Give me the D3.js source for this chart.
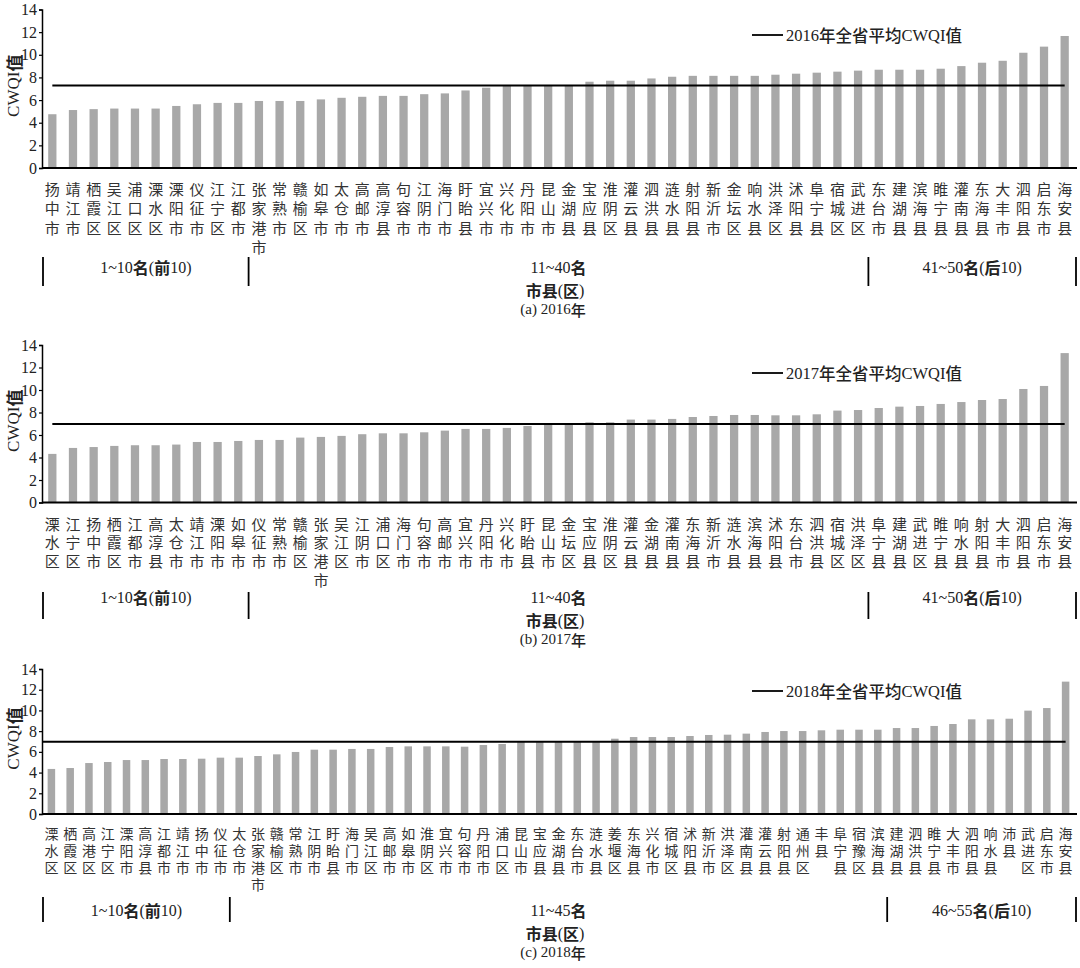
<!DOCTYPE html>
<html><head><meta charset="utf-8">
<script src="https://cdn.jsdelivr.net/npm/d3@7"></script>
<style>
body{margin:0;background:#fff;}
svg{display:block;}
</style></head>
<body><svg id="chart" width="1080" height="968"></svg>
<script>
const yTicks = [0,2,4,6,8,10,12,14];

const cats2016 = ["扬中市","靖江市","栖霞区","吴江区","浦口区","溧水区","溧阳市","仪征市","江宁区","江都市","张家港市","常熟市","赣榆区","如皋市","太仓市","高邮市","高淳县","句容市","江阴市","海门市","盱眙县","宜兴市","兴化市","丹阳市","昆山市","金湖县","宝应县","淮阴区","灌云县","泗洪县","涟水县","射阳县","新沂市","金坛区","响水县","洪泽区","沭阳县","阜宁县","宿城区","武进区","东台市","建湖县","滨海县","睢宁县","灌南县","东海县","大丰市","泗阳县","启东市","海安县"];
const vals2016 = [4.75,5.12,5.2,5.25,5.25,5.25,5.48,5.63,5.75,5.75,5.92,5.92,5.92,6.06,6.2,6.29,6.37,6.37,6.52,6.59,6.85,7.09,7.26,7.29,7.29,7.29,7.62,7.71,7.71,7.91,8.06,8.14,8.14,8.14,8.14,8.24,8.33,8.42,8.51,8.6,8.68,8.68,8.68,8.77,9.0,9.3,9.47,10.18,10.72,11.66];
const avg2016 = 7.29;
const groups2016 = ["1~10名(前10)","11~40名","41~50名(后10)"];
const bounds2016 = [0,10,40,50];

const cats2017 = ["溧水区","江宁区","扬中市","栖霞区","江都市","高淳县","太仓市","靖江市","溧阳市","如皋市","仪征市","常熟市","赣榆区","张家港市","吴江区","江阴市","浦口区","海门市","句容市","高邮市","宜兴市","丹阳市","兴化市","盱眙县","昆山市","金坛区","宝应县","淮阴区","灌云县","金湖县","灌南县","东海县","新沂市","涟水县","滨海县","沭阳县","东台市","泗洪县","宿城区","洪泽区","阜宁县","建湖县","武进区","睢宁县","响水县","射阳县","大丰市","泗阳县","启东市","海安县"];
const vals2017 = [4.32,4.85,4.93,5.03,5.09,5.09,5.15,5.38,5.38,5.47,5.56,5.56,5.77,5.83,5.92,6.07,6.15,6.15,6.24,6.39,6.54,6.54,6.63,6.8,6.95,6.95,7.13,7.13,7.37,7.37,7.43,7.6,7.69,7.78,7.78,7.75,7.75,7.84,8.17,8.22,8.4,8.52,8.58,8.76,8.93,9.11,9.2,10.09,10.36,13.28];
const avg2017 = 6.98;
const groups2017 = ["1~10名(前10)","11~40名","41~50名(后10)"];
const bounds2017 = [0,10,40,50];

const cats2018 = ["溧水区","栖霞区","高港区","江宁区","溧阳市","高淳县","江都市","靖江市","扬中市","仪征市","太仓市","张家港市","赣榆区","常熟市","江阴市","盱眙县","海门市","吴江区","高邮市","如皋市","淮阴区","宜兴市","句容市","丹阳市","浦口区","昆山市","宝应县","金湖县","东台市","涟水县","姜堰区","东海县","兴化市","宿城区","沭阳县","新沂市","洪泽区","灌南县","灌云县","射阳县","通州区","丰县","阜宁县","宿豫区","滨海县","建湖县","泗洪县","睢宁县","大丰市","泗阳县","响水县","沛县","武进区","启东市","海安县"];
const vals2018 = [4.35,4.44,4.92,5.02,5.21,5.21,5.31,5.31,5.34,5.44,5.44,5.6,5.76,5.99,6.21,6.21,6.28,6.28,6.47,6.53,6.53,6.53,6.5,6.66,6.76,6.95,6.95,6.95,6.95,6.95,7.27,7.43,7.43,7.43,7.53,7.63,7.66,7.76,7.92,8.01,8.01,8.08,8.14,8.14,8.14,8.3,8.3,8.5,8.69,9.14,9.14,9.2,9.98,10.23,12.78];
const avg2018 = 6.98;
const groups2018 = ["1~10名(前10)","11~45名","46~55名(后10)"];
const bounds2018 = [0,10,45,55];

const panels = [
  {cats:cats2016, vals:vals2016, avg:avg2016, groups:groups2016, bounds:bounds2016, year:"2016", cap:"(a) 2016年",
   yTop:9.5, y0:168, charY:189, charDy:19.5, charFs:15, brTop:257, brBot:286, grpY:267, titleY:290, capY:309, legY:35, avgFromAxis:false},
  {cats:cats2017, vals:vals2017, avg:avg2017, groups:groups2017, bounds:bounds2017, year:"2017", cap:"(b) 2017年",
   yTop:345, y0:502.5, charY:524, charDy:18.7, charFs:15, brTop:592, brBot:619, grpY:597, titleY:620, capY:639, legY:373, avgFromAxis:false},
  {cats:cats2018, vals:vals2018, avg:avg2018, groups:groups2018, bounds:bounds2018, year:"2018", cap:"(c) 2018年",
   yTop:669, y0:814, charY:834, charDy:17, charFs:14, brTop:897, brBot:922, grpY:910, titleY:933, capY:952, legY:691, avgFromAxis:true}
];

const svg = d3.select("#chart");
const X0 = 42, X1 = 1075;
const serif = "'Liberation Serif','Times New Roman','Noto Sans CJK SC',serif";
const cjk = "'Noto Sans CJK SC','Liberation Serif',sans-serif";

function mixedText(sel, str, cjkWeight){
  const runs = str.match(/[\x00-\x7F]+|[^\x00-\x7F]+/g);
  runs.forEach(r=>{
    const isAscii = /^[\x00-\x7F]+$/.test(r);
    sel.append("tspan").text(r)
      .attr("font-family", isAscii ? serif : cjk)
      .attr("font-weight", isAscii ? "normal" : cjkWeight);
  });
}

panels.forEach(p=>{
  const g = svg.append("g");
  const x = d3.scaleBand().domain(p.cats).range([X0, X1]).paddingInner(0.6).paddingOuter(0.3);
  const y = d3.scaleLinear().domain([0,14]).range([p.y0, p.yTop]);
  const cx = c => x(c) + x.bandwidth()/2;

  // bars
  g.selectAll("rect.bar").data(p.cats).join("rect")
    .attr("x", d=>x(d)).attr("width", x.bandwidth())
    .attr("y", (d,i)=>y(p.vals[i])).attr("height", (d,i)=>p.y0 - y(p.vals[i]))
    .attr("fill", "#a8a8a8");

  // y axis
  const ya = g.append("g").attr("transform", `translate(${X0},0)`)
    .call(d3.axisLeft(y).tickValues(yTicks).tickSize(3).tickPadding(2));
  ya.select(".domain").attr("stroke","#000").attr("stroke-width",1.5);
  ya.selectAll(".tick line").attr("stroke","#000").attr("stroke-width",1.2);
  ya.selectAll(".tick text").attr("font-family", serif).attr("font-size", 16).attr("fill","#222");

  // x baseline
  g.append("line").attr("x1", X0).attr("x2", X1+2).attr("y1", p.y0).attr("y2", p.y0)
    .attr("stroke","#000").attr("stroke-width",1.8);

  // average line
  const ax1 = p.avgFromAxis ? X0 : cx(p.cats[0]);
  g.append("line").attr("x1", ax1).attr("x2", cx(p.cats[p.cats.length-1]))
    .attr("y1", y(p.avg)).attr("y2", y(p.avg)).attr("stroke","#000").attr("stroke-width",2);

  // legend
  g.append("line").attr("x1",752).attr("x2",783).attr("y1",p.legY).attr("y2",p.legY)
    .attr("stroke","#000").attr("stroke-width",1.8);
  const lt = g.append("text").attr("x",786).attr("y",p.legY).attr("dominant-baseline","central")
    .attr("font-size",16.5).attr("fill","#222");
  mixedText(lt, p.year + "年全省平均CWQI值", "500");

  // y title
  const yt = g.append("text")
    .attr("transform", `translate(13,${(p.y0+p.yTop)/2 - 3}) rotate(-90)`)
    .attr("text-anchor","middle").attr("dominant-baseline","central")
    .attr("font-size",17).attr("fill","#222");
  mixedText(yt, "CWQI值", "700");

  // vertical category labels (single vertical text per category)
  g.selectAll("text.cat").data(p.cats).join("text")
    .attr("class","cat")
    .attr("x", d=>cx(d)).attr("y", p.charY - p.charFs/2)
    .style("writing-mode","vertical-rl")
    .style("letter-spacing", (p.charDy - p.charFs) + "px")
    .attr("font-family", cjk).attr("font-size", p.charFs).attr("fill","#333")
    .text(d=>d);

  // group brackets
  const n = p.cats.length;
  const bx = i => i===0 ? X0+1 : (i===n ? X1+1 : (cx(p.cats[i-1]) + cx(p.cats[i]))/2);
  p.bounds.forEach(b=>{
    g.append("line").attr("x1",bx(b)).attr("x2",bx(b)).attr("y1",p.brTop).attr("y2",p.brBot)
      .attr("stroke","#000").attr("stroke-width",1.8);
  });
  p.groups.forEach((lab,i)=>{
    const mx = (bx(p.bounds[i]) + bx(p.bounds[i+1]))/2;
    const t = g.append("text").attr("x", mx).attr("y", p.grpY).attr("text-anchor","middle")
      .attr("dominant-baseline","central").attr("font-size",16).attr("fill","#222");
    mixedText(t, lab, "700");
  });

  // x title and caption
  const xt = g.append("text").attr("x",555).attr("y",p.titleY).attr("text-anchor","middle")
    .attr("dominant-baseline","central").attr("font-size",16).attr("fill","#222");
  mixedText(xt, "市县(区)", "700");
  const ct = g.append("text").attr("x",553).attr("y",p.capY).attr("text-anchor","middle")
    .attr("dominant-baseline","central").attr("font-size",15).attr("fill","#222");
  mixedText(ct, p.cap, "500");
});
</script></body></html>
